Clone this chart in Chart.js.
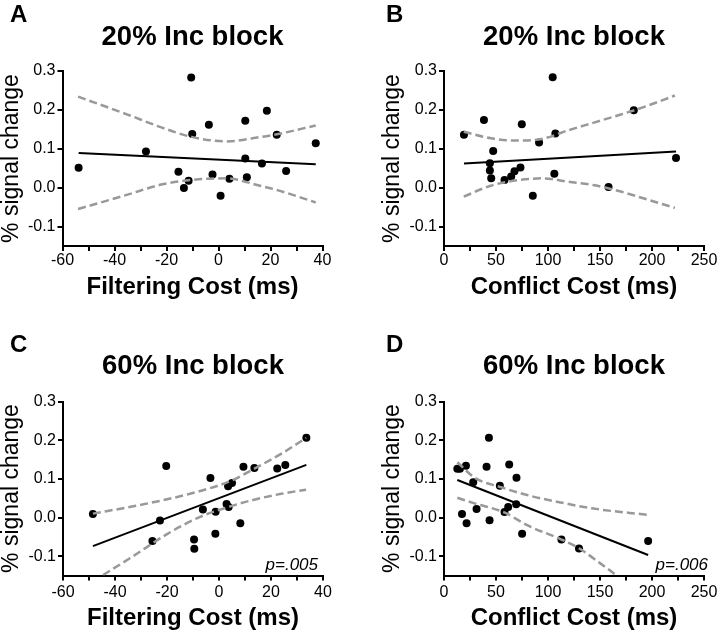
<!DOCTYPE html>
<html>
<head>
<meta charset="utf-8">
<script src="https://cdn.jsdelivr.net/npm/chart.js@4.4.1/dist/chart.umd.min.js"></script>
<style>
  body { margin: 0; background: #fff; }
  #wrap { position: relative; width: 720px; height: 634px; }
  canvas { position: absolute; }
</style>
</head>
<body>
<div id="wrap">
  <canvas id="chartA" width="360" height="317" style="left:0;top:0"></canvas>
  <canvas id="chartB" width="360" height="317" style="left:360px;top:0"></canvas>
  <canvas id="chartC" width="360" height="317" style="left:0;top:317px"></canvas>
  <canvas id="chartD" width="360" height="317" style="left:360px;top:317px"></canvas>
</div>
<script>
// tick values
const yTicks = [-0.1, 0, 0.1, 0.2, 0.3];
const filterTicks = [-60, -50, -40, -30, -20, -10, 0, 10, 20, 30, 40];
const conflictTicks = [0, 25, 50, 75, 100, 125, 150, 175, 200, 225, 250];

// A: 20% Inc block, filtering cost
const filterA = [-53.8, -27.9, -10.5, -10.1, -15.4, -11.5, -13.3, -3.7, -2.3, 0.8, 4.2, 10.3, 10.3, 10.9, 18.6, 16.7, 22.4, 26, 37.4];
const signalA = [0.051, 0.093, 0.283, 0.138, 0.041, 0.018, -0.001, 0.162, 0.034, -0.021, 0.023, 0.172, 0.075, 0.027, 0.198, 0.062, 0.136, 0.043, 0.114];
const fitAx = [-53.8, 37.4];
const fitAy = [0.089, 0.060];
const ciAx = [-54, -35, -22, -10, 3, 16, 23, 37.4];
const ciAup = [0.234, 0.188, 0.155, 0.130, 0.119, 0.130, 0.138, 0.160];
const ciAlo = [-0.055, -0.018, 0.008, 0.020, 0.024, 0.005, -0.007, -0.038];

// B: 20% Inc block, conflict cost
const conflictB = [19.2, 38.4, 44.1, 44.1, 45.4, 47.3, 58.2, 64.6, 67.8, 73.5, 74.8, 85.4, 91.4, 104.5, 107.1, 106.1, 158.2, 182.5, 223.1];
const signalB = [0.136, 0.174, 0.063, 0.044, 0.024, 0.094, 0.020, 0.029, 0.042, 0.052, 0.163, -0.021, 0.116, 0.284, 0.139, 0.036, 0.002, 0.199, 0.076];
const fitBx = [19.2, 223.1];
const fitBy = [0.062, 0.093];
const ciBx = [19, 45, 70, 95, 120, 145, 170, 195, 222];
const ciBup = [0.144, 0.127, 0.121, 0.126, 0.148, 0.168, 0.188, 0.210, 0.237];
const ciBlo = [-0.023, 0.005, 0.019, 0.024, 0.015, 0.006, -0.010, -0.030, -0.052];

// C: 60% Inc block, filtering cost
const filterC = [-48.5, -25.6, -22.7, -20.3, -9.6, -9.5, -6.2, -3.3, -1.4, -1.3, 2.9, 3.5, 3.7, 5.0, 8.2, 9.4, 13.6, 22.4, 25.5, 33.6];
const signalC = [0.009, -0.061, -0.008, 0.133, -0.057, -0.081, 0.021, 0.102, -0.042, 0.015, 0.035, 0.081, 0.027, 0.089, -0.015, 0.131, 0.128, 0.127, 0.136, 0.206];
const fitCx = [-48.5, 33.6];
const fitCy = [-0.074, 0.136];
const ciCx = [-48.5, -33, -20, -7.5, 5, 13.5, 24.5, 33.5];
const ciCup = [0.010, 0.029, 0.047, 0.068, 0.096, 0.126, 0.167, 0.206];
const ciClo = [-0.165, -0.100, -0.043, 0.001, 0.030, 0.046, 0.062, 0.072];

// D: 60% Inc block, conflict cost
const conflictD = [12.8, 15.3, 21.1, 17.3, 21.7, 28.1, 31.3, 40.9, 43.2, 43.8, 53.7, 58.2, 61.7, 62.7, 69.7, 69.4, 75.1, 112.9, 129.8, 196.3];
const signalD = [0.126, 0.126, 0.134, 0.009, -0.015, 0.091, 0.022, 0.131, 0.206, -0.007, 0.082, 0.014, 0.027, 0.137, 0.103, 0.034, -0.042, -0.057, -0.080, -0.061];
const fitDx = [12.8, 196.3];
const fitDy = [0.097, -0.097];
const ciDupX = [12.8, 30, 54, 80, 112, 144, 195.5];
const ciDup = [0.143, 0.102, 0.079, 0.058, 0.039, 0.023, 0.007];
const ciDloX = [12.8, 30, 58, 80, 113, 130, 150, 166];
const ciDlo = [0.051, 0.036, 0.013, -0.020, -0.057, -0.080, -0.118, -0.150];

const FONT = "'Liberation Sans', Arial, Helvetica, sans-serif";
Chart.defaults.font.family = FONT;
Chart.defaults.color = "#000";

function pts(xs, ys) {
  return xs.map((x, i) => ({ x: x, y: ys[i] }));
}

// letter, title and p value
const panelText = {
  id: "panelText",
  afterDraw(chart, args, o) {
    const ctx = chart.ctx;
    const area = chart.chartArea;
    ctx.save();
    ctx.fillStyle = "#000";
    ctx.textBaseline = "alphabetic";
    ctx.font = "bold 24px " + FONT;
    ctx.textAlign = "left";
    ctx.fillText(o.letter, o.letterX, o.letterY);
    ctx.font = "bold 27.5px " + FONT;
    ctx.textAlign = "center";
    ctx.fillText(o.title, (area.left + area.right) / 2, o.titleY);
    if (o.p) {
      ctx.font = "italic 17px " + FONT;
      ctx.textAlign = "right";
      ctx.fillText(o.p, o.pX, o.pY);
    }
    ctx.restore();
  },
};

function makePanel(id, p) {
  const ciStyle = {
    showLine: true,
    borderColor: "#999",
    borderWidth: 2.5,
    borderDash: [8, 4],
    pointRadius: 0,
    cubicInterpolationMode: "monotone",
  };
  new Chart(document.getElementById(id), {
    type: "scatter",
    data: {
      datasets: [
        Object.assign({ data: p.upper }, ciStyle),
        Object.assign({ data: p.lower }, ciStyle),
        {
          data: p.fit,
          showLine: true,
          borderColor: "#000",
          borderWidth: 2,
          pointRadius: 0,
        },
        {
          data: p.points,
          backgroundColor: "#000",
          borderWidth: 0,
          pointRadius: 4,
        },
      ],
    },
    options: {
      responsive: false,
      animation: false,
      events: [],
      layout: { padding: { left: 0, top: p.T, right: 360 - p.R, bottom: 0 } },
      plugins: {
        legend: { display: false },
        tooltip: { enabled: false },
        panelText: {
          letter: p.letter, letterX: p.letterX, letterY: p.letterY,
          title: p.title, titleY: p.titleY,
          p: p.pText, pX: p.pX, pY: p.pY,
        },
      },
      scales: {
        x: {
          type: "linear",
          min: p.xTicks[0],
          max: p.xTicks[p.xTicks.length - 1],
          afterBuildTicks: (s) => { s.ticks = p.xTicks.map((v) => ({ value: v })); },
          afterFit: (s) => { s.height = 317 - p.B; },
          ticks: {
            autoSkip: false,
            maxRotation: 0,
            padding: p.tickPad,
            font: { size: 16 },
            callback: (v) => (v % p.xLabelStep === 0 ? String(v) : ""),
          },
          grid: { drawOnChartArea: false, tickLength: 5, color: "#000", lineWidth: 2 },
          border: { color: "#000", width: 2 },
          title: {
            display: true,
            text: p.xTitle,
            font: { size: 24, weight: "bold" },
            padding: { top: 0, bottom: p.xTitlePad },
          },
        },
        y: {
          min: -0.15,
          max: 0.3,
          afterBuildTicks: (s) => { s.ticks = yTicks.map((v) => ({ value: v })); },
          afterFit: (s) => { s.width = p.L; },
          ticks: {
            padding: 2,
            font: { size: 16 },
            callback: (v) => v.toFixed(1),
          },
          grid: { drawOnChartArea: false, tickLength: 5, color: "#000", lineWidth: 2 },
          border: { color: "#000", width: 2 },
          title: {
            display: true,
            text: "% signal change",
            font: { size: 23 },
            padding: { top: p.yTitlePad, bottom: 0 },
          },
        },
      },
    },
    plugins: [panelText],
  });
}

makePanel("chartA", {
  points: pts(filterA, signalA), fit: pts(fitAx, fitAy),
  upper: pts(ciAx, ciAup), lower: pts(ciAx, ciAlo),
  xTicks: filterTicks, xLabelStep: 20, xTitle: "Filtering Cost (ms)",
  L: 62.5, R: 322.5, T: 71, B: 246,
  letter: "A", letterX: 10, letterY: 22, title: "20% Inc block", titleY: 45,
  xTitlePad: 15.6, tickPad: 0, yTitlePad: -2,
});
makePanel("chartB", {
  points: pts(conflictB, signalB), fit: pts(fitBx, fitBy),
  upper: pts(ciBx, ciBup), lower: pts(ciBx, ciBlo),
  xTicks: conflictTicks, xLabelStep: 50, xTitle: "Conflict Cost (ms)",
  L: 84, R: 344, T: 71, B: 246,
  letter: "B", letterX: 26, letterY: 22, title: "20% Inc block", titleY: 45,
  xTitlePad: 15.6, tickPad: 0, yTitlePad: 19,
});
makePanel("chartC", {
  points: pts(filterC, signalC), fit: pts(fitCx, fitCy),
  upper: pts(ciCx, ciCup), lower: pts(ciCx, ciClo),
  xTicks: filterTicks, xLabelStep: 20, xTitle: "Filtering Cost (ms)",
  L: 63, R: 323, T: 84.5, B: 258.5,
  letter: "C", letterX: 10, letterY: 35, title: "60% Inc block", titleY: 57,
  xTitlePad: 1, tickPad: 2, yTitlePad: -2,
  pText: "p=.005", pX: 318, pY: 253,
});
makePanel("chartD", {
  points: pts(conflictD, signalD), fit: pts(fitDx, fitDy),
  upper: pts(ciDupX, ciDup), lower: pts(ciDloX, ciDlo),
  xTicks: conflictTicks, xLabelStep: 50, xTitle: "Conflict Cost (ms)",
  L: 84, R: 344, T: 84.5, B: 258.5,
  letter: "D", letterX: 26, letterY: 35, title: "60% Inc block", titleY: 57,
  xTitlePad: 1, tickPad: 2, yTitlePad: 19,
  pText: "p=.006", pX: 348, pY: 253,
});
</script>
</body>
</html>
